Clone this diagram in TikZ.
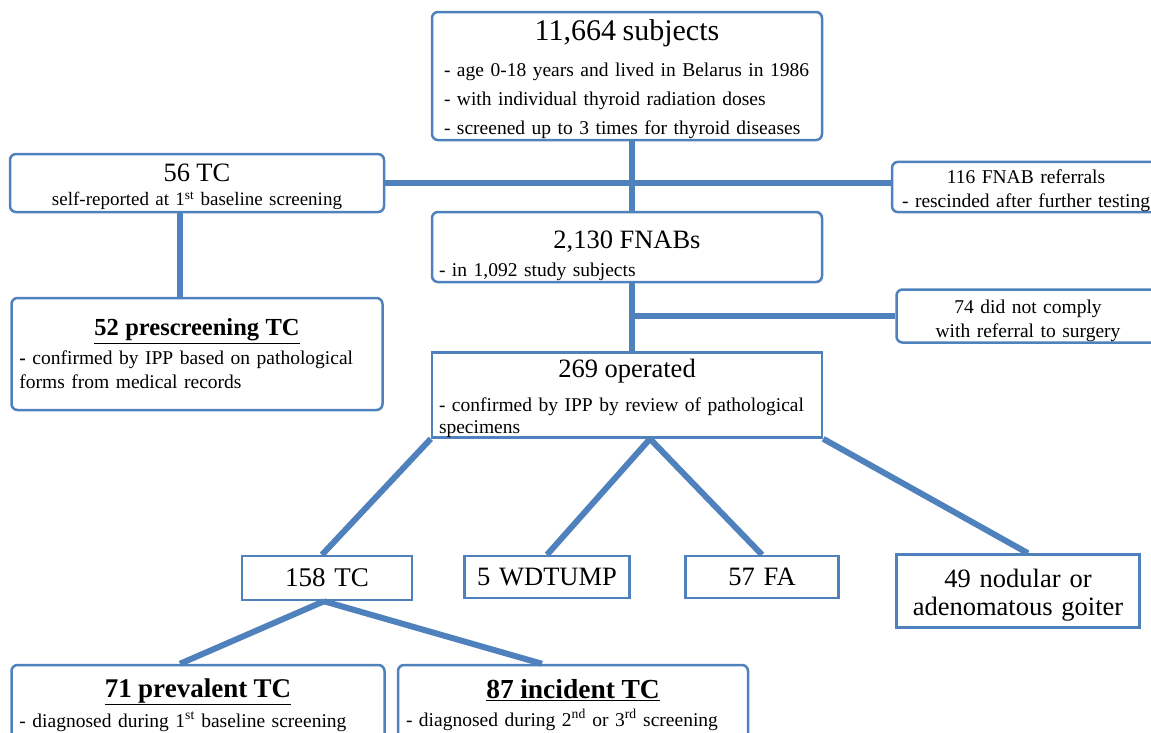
\documentclass[tikz,border=0pt]{standalone}
\usepackage{fontspec}
\setmainfont{Liberation Serif}
\newfontfamily\timesfam{Liberation Serif}
\usepackage{tikz}
\usetikzlibrary{positioning}
\definecolor{lineblue}{RGB}{79,129,189}

\newcommand{\headtxt}{\fontsize{26.5}{30}\selectfont}
\newcommand{\topstrut}[1]{\rule{0pt}{#1}}

\begin{document}
\begin{tikzpicture}[
    x=1pt, y=-1pt,
    box/.style={
        draw=lineblue,
        line width=2.5pt,
        rounded corners=6pt,
        fill=white,
        inner xsep=9pt,
        inner ysep=0pt,
        align=center
    },
    sqbox/.style={box, sharp corners},
    link/.style={draw=lineblue, line width=6pt}
]
\useasboundingbox (0,0) rectangle (1151,732);

\node[box, text width=366pt, minimum height=128pt, align=left, inner xsep=12pt,
      font=\timesfam\fontsize{19.5}{29}\selectfont] (subjects) at (627,76) {
\makebox[\linewidth]{\topstrut{28pt}\fontsize{30}{32}\selectfont 11,664 subjects}\\[7pt]
- age 0-18 years and lived in Belarus in 1986\\
- with individual thyroid radiation doses\\
- screened up to 3 times for thyroid diseases
};

\node[box, text width=356pt, minimum height=58pt,
      font=\timesfam\fontsize{19}{24}\selectfont] (selfrep) at (197,183) {
{\topstrut{25pt}\headtxt 56 TC}\\
self-reported at 1\textsuperscript{st} baseline screening
};

\node[box, text width=264pt, minimum height=50pt, inner xsep=2pt,
      font=\timesfam\fontsize{19.5}{24}\selectfont] (rescind) at (1026,187) {
\topstrut{22pt}116 FNAB referrals\\
- rescinded after further testing
};

\node[box, text width=376pt, minimum height=70pt, align=left, inner xsep=7pt,
      font=\timesfam\fontsize{19.5}{26}\selectfont] (fnab) at (627,247) {
\makebox[\linewidth]{\topstrut{36pt}\headtxt 2,130 FNABs}\\[2pt]
- in 1,092 study subjects
};

\node[box, text width=245pt, minimum height=53pt,
      font=\timesfam\fontsize{19.5}{24}\selectfont] (noncomply) at (1028,316) {
\topstrut{23pt}74 did not comply\\
with referral to surgery
};

\node[box, text width=355pt, minimum height=112pt, align=left, inner xsep=8pt,
      font=\timesfam\fontsize{19.5}{24}\selectfont] (prescreen) at (197,354) {
\makebox[\linewidth]{\fontsize{24.5}{28}\selectfont\underline{\textbf{52 prescreening TC}}}\\[5pt]
\textbf{-} confirmed by IPP based on pathological\\
forms from medical records
};

\node[sqbox, text width=376pt, minimum height=85pt, align=left, inner xsep=7pt,
      font=\timesfam\fontsize{19.5}{22}\selectfont] (operated) at (627,395) {
\makebox[\linewidth]{\topstrut{25pt}\headtxt 269 operated}\\[12pt]
- confirmed by IPP by review of pathological\\
specimens
};

\node[sqbox, text width=152pt, minimum height=44pt, font=\timesfam\fontsize{27}{30}\selectfont] (tc) at (327,578) {158 TC};
\node[sqbox, text width=147pt, minimum height=42pt, font=\timesfam\headtxt] (wdtump) at (547,577) {5 WDTUMP};
\node[sqbox, text width=135pt, minimum height=42pt, font=\timesfam\headtxt] (fa) at (762,577) {57 FA};
\node[sqbox, text width=229pt, minimum height=73pt, inner xsep=7pt,
      font=\timesfam\fontsize{26.5}{28}\selectfont] (goiter) at (1018,591) {
\topstrut{27pt}49 nodular or\\
adenomatous goiter
};

\node[box, text width=357pt, minimum height=80pt, align=left, inner xsep=8pt,
      font=\timesfam\fontsize{19.5}{22}\selectfont] (prevalent) at (198,705) {
\makebox[\linewidth]{\fontsize{27}{30}\selectfont\underline{\textbf{71 prevalent TC}}}\\[6pt]
- diagnosed during 1\textsuperscript{st} baseline screening
};

\node[box, text width=334pt, minimum height=80pt, align=left, inner xsep=8pt,
      font=\timesfam\fontsize{19.5}{22}\selectfont] (incident) at (573,705) {
\makebox[\linewidth]{\fontsize{27.5}{30}\selectfont\underline{\textbf{87 incident TC}}}\\[6pt]
- diagnosed during 2\textsuperscript{nd} or 3\textsuperscript{rd} screening
};

\draw[link] ([xshift=5pt]subjects.south) -- ([xshift=5pt]fnab.north);
\draw[link] (selfrep.east) -- (selfrep.east -| rescind.west);
\draw[link] ([xshift=-17pt]selfrep.south) -- ([xshift=-17pt]prescreen.north);
\draw[link] ([xshift=5pt]fnab.south) -- ([xshift=5pt]operated.north);
\draw[link] (noncomply.west) -- ([xshift=5pt]noncomply.west -| fnab.south);
\draw[link] (operated.south west) -- ([xshift=-5pt]tc.north);
\draw[link] ([xshift=23pt]operated.south) -- (wdtump.north);
\draw[link] ([xshift=23pt]operated.south) -- (fa.north);
\draw[link] (operated.south east) -- ([xshift=10pt]goiter.north);
\draw[link] ([xshift=-3pt]tc.south) -- ([xshift=-18pt]prevalent.north);
\draw[link] ([xshift=-3pt]tc.south) -- ([xshift=-31pt]incident.north);

\end{tikzpicture}
\end{document}
